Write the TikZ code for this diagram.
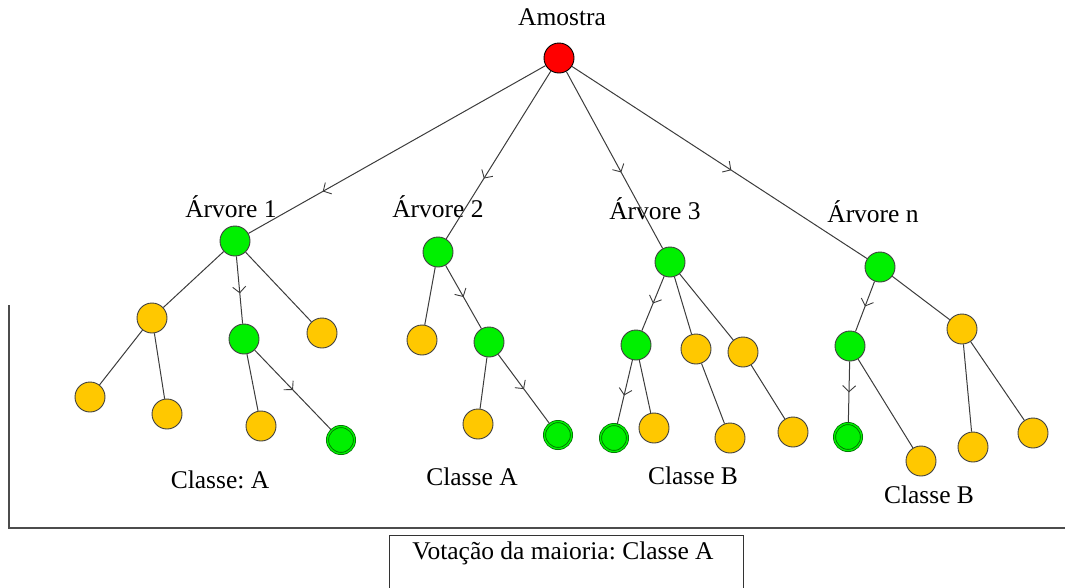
\documentclass[tikz,border=0pt]{standalone}
\usepackage{fontspec}
\setmainfont{Liberation Serif}
\frenchspacing
\usetikzlibrary{arrows.meta,decorations.markings}
\definecolor{nred}{RGB}{255,0,0}
\definecolor{ngreen}{RGB}{0,240,0}
\definecolor{nyellow}{RGB}{255,200,0}
\definecolor{dgreen}{RGB}{0,110,0}
\definecolor{edgegray}{RGB}{60,60,60}
\begin{document}
\begin{tikzpicture}[x=1pt,y=-1pt,
  nd/.style={circle,minimum size=30pt,inner sep=0pt,draw=black!75,line width=0.9pt},
  rootnd/.style={nd,fill=nred,draw=black},
  gnd/.style={nd,fill=ngreen},
  ynd/.style={nd,fill=nyellow},
  leafnd/.style={circle,minimum size=27pt,inner sep=0pt,fill=ngreen,draw=dgreen,double=ngreen,double distance=1.4pt,line width=0.8pt},
  lbl/.style={inner sep=0pt,font=\fontsize{25.5}{30}\selectfont},
  edge/.style={draw=edgegray,line width=1pt},
  mk/.style={postaction={decorate},decoration={markings,mark=at position #1 with {\arrow[edgegray,line width=0.9pt]{Straight Barb[length=6pt,width=13pt]}}}},
  frame/.style={draw=black!70,line width=1.3pt}
]
\useasboundingbox (0,0) rectangle (1065,587);
% root
\node[rootnd] (r) at (559,58) {};
\node[lbl] (lr) at (562,17) {Amostra};
% tree 1
\node[gnd] (a1) at (235,241) {};
\node[lbl] (la1) at (231,207) {Árvore 1};
\node[ynd] (a1y) at (152,318) {};
\node[ynd] (a1yl) at (90,397) {};
\node[ynd] (a1yr) at (167,414) {};
\node[gnd] (a1g) at (244,339) {};
\node[ynd] (a1gy) at (261,426) {};
\node[leafnd] (a1gl) at (341,440) {};
\node[ynd] (a1r) at (322,333) {};
\node[lbl] (ca1) at (220,480) {Classe: A};
% tree 2
\node[gnd] (a2) at (438,252) {};
\node[lbl] (la2) at (438,207) {Árvore 2};
\node[ynd] (a2y) at (422,340) {};
\node[gnd] (a2g) at (489,342) {};
\node[ynd] (a2gy) at (478,424) {};
\node[leafnd] (a2gl) at (558,435) {};
\node[lbl] (ca2) at (472,477) {Classe A};
% tree 3
\node[gnd] (a3) at (670,262) {};
\node[lbl] (la3) at (655,209) {Árvore 3};
\node[gnd] (a3g) at (636,345) {};
\node[leafnd] (a3gl) at (614,438) {};
\node[ynd] (a3gy) at (654,428) {};
\node[ynd] (a3m) at (696,349) {};
\node[ynd] (a3my) at (730,438) {};
\node[ynd] (a3r) at (743,352) {};
\node[ynd] (a3ry) at (793,432) {};
\node[lbl] (ca3) at (693,476) {Classe B};
% tree n
\node[gnd] (an) at (880,267) {};
\node[lbl] (lan) at (873,212) {Árvore n};
\node[gnd] (ang) at (850,346) {};
\node[leafnd] (angl) at (848,437) {};
\node[ynd] (angy) at (921,461) {};
\node[ynd] (anr) at (962,329) {};
\node[ynd] (anrl) at (973,447) {};
\node[ynd] (anrr) at (1033,433) {};
\node[lbl] (can) at (929,495) {Classe B};
% edges from root
\draw[edge,mk=0.75] (r) -- (a1);
\draw[edge,mk=0.64] (r) -- (a2);
\draw[edge,mk=0.57] (r) -- (a3);
\draw[edge,mk=0.54] (r) -- (an);
% tree 1 edges
\draw[edge] (a1) -- (a1y);
\draw[edge] (a1y) -- (a1yl);
\draw[edge] (a1y) -- (a1yr);
\draw[edge,mk=0.55] (a1) -- (a1g);
\draw[edge] (a1g) -- (a1gy);
\draw[edge,mk=0.5] (a1g) -- (a1gl);
\draw[edge] (a1) -- (a1r);
% tree 2 edges
\draw[edge] (a2) -- (a2y);
\draw[edge,mk=0.5] (a2) -- (a2g);
\draw[edge] (a2g) -- (a2gy);
\draw[edge,mk=0.5] (a2g) -- (a2gl);
% tree 3 edges
\draw[edge,mk=0.5] (a3) -- (a3g);
\draw[edge,mk=0.55] (a3g) -- (a3gl);
\draw[edge] (a3g) -- (a3gy);
\draw[edge] (a3) -- (a3m);
\draw[edge] (a3m) -- (a3my);
\draw[edge] (a3) -- (a3r);
\draw[edge] (a3r) -- (a3ry);
% tree n edges
\draw[edge,mk=0.5] (an) -- (ang);
\draw[edge,mk=0.5] (ang) -- (angl);
\draw[edge] (ang) -- (angy);
\draw[edge] (an) -- (anr);
\draw[edge] (anr) -- (anrl);
\draw[edge] (anr) -- (anrr);
% frame
\coordinate (ftop) at (9,305);
\coordinate (fcorner) at (9,528);
\coordinate (fright) at (1065,528);
\draw[frame] (ftop) -- (fcorner) -- (fright);
% vote box
\node[lbl] (vote) at (563,553) {Votação da maioria: Classe A};
\coordinate (bl) at (389,590);
\coordinate (tl) at (389,535);
\coordinate (tr) at (743,535);
\coordinate (br) at (743,590);
\draw[draw=black!80,line width=1pt] (bl) -- (tl) -- (tr) -- (br);
\end{tikzpicture}
\end{document}
